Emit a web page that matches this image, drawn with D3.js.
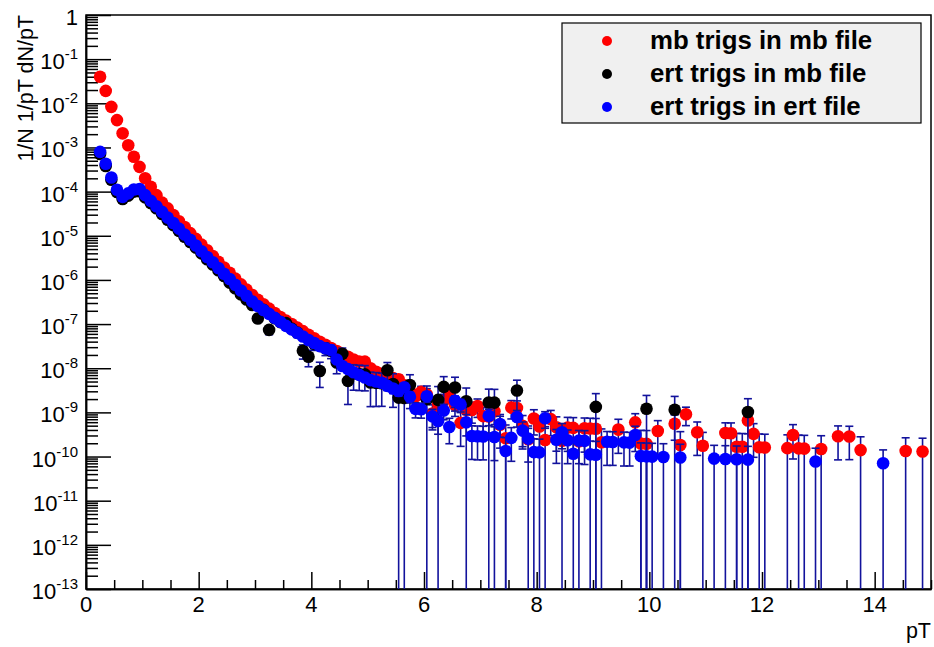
<!DOCTYPE html>
<html>
<head>
<meta charset="utf-8">
<script src="https://cdn.jsdelivr.net/npm/d3@7"></script>
<style>
  body { margin: 0; background: #fff; }
  svg { display: block; }
  text { font-family: "Liberation Sans", Arial, Helvetica, sans-serif; fill: #000; }
</style>
</head>
<body>
<div id="chart"></div>
<script>
// legend entries
const seriesNames = ["mb trigs in mb file", "ert trigs in mb file", "ert trigs in ert file"];
// tick labels
const xTickLabels = [0, 2, 4, 6, 8, 10, 12, 14];
const yDecades = [0, -1, -2, -3, -4, -5, -6, -7, -8, -9, -10, -11, -12, -13];

// [pT, 1/N 1/pT dN/pT, error]
const mbTrigsMbFile = [
  [0.25,3.98e-2,0],[0.35,1.91e-2,0],[0.45,8.32e-3,0],[0.55,4.17e-3,0],[0.65,2.09e-3,0],[0.75,1.12e-3,0],
  [0.85,6.17e-4,0],[0.95,3.63e-4,0],[1.05,2.00e-4,0],[1.15,1.29e-4,0],[1.25,8.32e-5,0],[1.35,5.62e-5,0],
  [1.45,4.17e-5,0],[1.55,2.95e-5,0],[1.65,2.14e-5,0],[1.75,1.58e-5,0],[1.85,1.15e-5,0],[1.95,8.51e-6,0],
  [2.05,6.31e-6,0],[2.15,4.68e-6,0],[2.25,3.47e-6,0],[2.35,2.57e-6,0],[2.45,1.91e-6,0],[2.55,1.45e-6,0],
  [2.65,1.07e-6,0],[2.75,7.94e-7,0],[2.85,6.03e-7,0],[2.95,4.57e-7,0],[3.05,3.55e-7,0],[3.15,2.82e-7,0],
  [3.25,2.24e-7,0],[3.35,1.78e-7,0],[3.45,1.45e-7,0],[3.55,1.20e-7,0],[3.65,1.00e-7,0],[3.75,8.32e-8,0],
  [3.85,6.92e-8,0],[3.95,5.75e-8,0],[4.05,4.79e-8,0],[4.15,3.98e-8,0],[4.25,3.39e-8,0],[4.35,2.88e-8,0],
  [4.45,2.45e-8,0],[4.55,2.09e-8,0],[4.65,1.82e-8,0],[4.75,1.58e-8,0],[4.85,1.41e-8,2.3e-9],[4.95,1.41e-8,2.3e-9],
  [5.05,1.00e-8,2.0e-9],[5.15,8.32e-9,1.8e-9],[5.25,7.41e-9,1.7e-9],[5.35,6.61e-9,1.55e-9],[5.45,6.03e-9,1.45e-9],
  [5.55,5.62e-9,1.4e-9],[5.65,4.10e-9,1.18e-9],[5.75,3.02e-9,1.0e-9],[5.85,2.31e-9,8.7e-10],[5.95,2.92e-9,9.7e-10],
  [6.05,2.55e-9,9.0e-10],[6.15,9.41e-10,5.4e-10],[6.25,1.54e-9,6.9e-10],[6.35,1.82e-9,7.4e-10],[6.45,2.69e-9,9.0e-10],
  [6.55,1.47e-9,6.6e-10],[6.65,5.80e-10,4.1e-10],[6.75,1.14e-9,5.7e-10],[6.85,1.13e-9,5.6e-10],[6.95,1.39e-9,6.2e-10],
  [7.05,8.21e-10,4.7e-10],[7.15,8.10e-10,4.7e-10],[7.25,1.06e-9,5.3e-10],[7.35,5.25e-10,3.7e-10],[7.45,2.59e-10,2.59e-10],
  [7.55,1.28e-9,5.7e-10],[7.65,1.26e-9,5.6e-10],[7.75,4.98e-10,3.5e-10],[7.85,2.46e-10,2.46e-10],[7.95,7.28e-10,4.2e-10],
  [8.05,4.80e-10,3.4e-10],[8.15,2.37e-10,2.37e-10],[8.25,7.02e-10,4.05e-10],[8.35,4.62e-10,3.3e-10],[8.45,2.28e-10,2.28e-10],
  [8.55,4.51e-10,3.2e-10],[8.65,4.46e-10,3.15e-10],[8.75,2.21e-10,2.21e-10],[8.85,4.36e-10,3.1e-10],[8.95,4.31e-10,3.05e-10],
  [9.05,4.27e-10,3.0e-10],[9.15,2.11e-10,2.11e-10],[9.45,4.08e-10,2.9e-10],[9.75,5.94e-10,3.4e-10],[9.85,1.96e-10,1.96e-10],
  [9.95,1.94e-10,1.94e-10],[10.15,3.80e-10,2.7e-10],[10.45,5.54e-10,3.2e-10],[10.55,1.83e-10,1.83e-10],[10.65,9.06e-10,4.05e-10],
  [10.85,3.56e-10,2.5e-10],[10.95,1.76e-10,1.76e-10],[11.35,3.40e-10,2.4e-10],[11.45,3.37e-10,2.4e-10],[11.55,1.67e-10,1.67e-10],
  [11.65,1.66e-10,1.66e-10],[11.75,6.57e-10,3.3e-10],[11.85,3.26e-10,2.3e-10],[11.95,1.62e-10,1.62e-10],[12.05,1.60e-10,1.60e-10],
  [12.45,1.55e-10,1.55e-10],[12.55,3.08e-10,2.2e-10],[12.65,1.53e-10,1.53e-10],[12.75,1.51e-10,1.51e-10],[13.05,1.48e-10,1.48e-10],
  [13.35,2.89e-10,2.05e-10],[13.55,2.85e-10,2.0e-10],[13.75,1.40e-10,1.40e-10],[14.55,1.33e-10,1.33e-10],[14.85,1.30e-10,1.30e-10]
];

const ertTrigsMbFile = [
  [0.25,7.1e-4,0],[0.35,3.8e-4,0],[0.45,1.86e-4,0],[0.55,9.8e-5,0],[0.65,6.8e-5,0],[0.75,8.1e-5,0],
  [0.85,1.0e-4,0],[0.95,1.02e-4,0],[1.05,7.4e-5,0],[1.15,5.5e-5,0],[1.25,4.2e-5,0],[1.35,3.1e-5,0],
  [1.45,2.3e-5,0],[1.55,1.74e-5,0],[1.65,1.29e-5,0],[1.75,9.5e-6,0],[1.85,7.2e-6,0],[1.95,5.4e-6,0],
  [2.05,4.0e-6,0],[2.15,2.95e-6,0],[2.25,2.23e-6,0],[2.35,1.66e-6,0],[2.45,1.23e-6,0],[2.55,8.7e-7,0],
  [2.65,6.5e-7,0],[2.75,4.7e-7,0],[2.85,3.6e-7,0],[2.95,2.7e-7,0],
  [3.05,1.34e-7,2.3e-8],[3.15,2.1e-7,2.8e-8],[3.25,7.38e-8,1.65e-8],[3.35,1.36e-7,2.2e-8],[3.45,1.11e-7,1.97e-8],
  [3.55,1.05e-7,1.9e-8],[3.65,7.9e-8,1.6e-8],[3.75,6.4e-8,1.43e-8],[3.85,2.49e-8,8.8e-9],[3.95,1.82e-8,7.4e-9],
  [4.05,3.56e-8,1.03e-8],[4.15,8.67e-9,5.0e-9],[4.25,2.82e-8,8.9e-9],[4.35,2.48e-8,8.3e-9],[4.45,1.35e-8,6.0e-9],
  [4.55,2.11e-8,7.5e-9],[4.65,5.16e-9,3.65e-9],[4.75,7.58e-9,4.4e-9],[4.85,7.42e-9,4.3e-9],[4.95,7.27e-9,4.2e-9],
  [5.05,4.75e-9,3.4e-9],[5.15,4.66e-9,3.3e-9],[5.25,4.57e-9,3.2e-9],[5.35,8.97e-9,4.5e-9],[5.45,4.40e-9,3.1e-9],
  [5.55,2.16e-9,2.16e-9],[5.65,2.12e-9,2.12e-9],[5.75,4.17e-9,2.95e-9],[6.05,1.98e-9,1.98e-9],[6.25,1.92e-9,1.92e-9],
  [6.35,3.78e-9,2.67e-9],[6.55,3.66e-9,2.59e-9],[6.75,1.78e-9,1.78e-9],[7.15,1.68e-9,1.68e-9],[7.25,1.66e-9,1.66e-9],
  [7.65,3.14e-9,2.22e-9],[9.05,1.33e-9,1.33e-9],[9.95,1.21e-9,1.21e-9],[10.45,1.15e-9,1.15e-9],[11.75,1.02e-9,1.02e-9]
];

const ertTrigsErtFile = [
  [0.25,7.94e-4,0],[0.35,4.27e-4,0],[0.45,2.09e-4,0],[0.55,1.10e-4,0],[0.65,7.59e-5,0],[0.75,9.12e-5,0],
  [0.85,1.12e-4,0],[0.95,1.15e-4,0],[1.05,8.32e-5,0],[1.15,6.17e-5,0],[1.25,4.68e-5,0],[1.35,3.47e-5,0],
  [1.45,2.57e-5,0],[1.55,1.95e-5,0],[1.65,1.45e-5,0],[1.75,1.07e-5,0],[1.85,8.13e-6,0],[1.95,6.03e-6,0],
  [2.05,4.47e-6,0],[2.15,3.31e-6,0],[2.25,2.51e-6,0],[2.35,1.86e-6,0],[2.45,1.38e-6,0],[2.55,1.05e-6,0],
  [2.65,7.76e-7,0],[2.75,5.75e-7,0],[2.85,4.37e-7,0],[2.95,3.24e-7,0],[3.05,2.57e-7,0],[3.15,2.09e-7,0],
  [3.25,1.70e-7,0],[3.35,1.38e-7,0],[3.45,1.12e-7,0],[3.55,9.12e-8,0],[3.65,7.59e-8,0],[3.75,6.31e-8,0],
  [3.85,5.25e-8,0],[3.95,4.37e-8,0],[4.05,3.72e-8,0],[4.15,3.16e-8,0],[4.25,2.82e-8,0],[4.35,2.57e-8,0],
  [4.45,1.58e-8,1.9e-9],[4.55,1.12e-8,1.6e-9],[4.65,9.55e-9,1.4e-9],[4.75,8.13e-9,1.3e-9],[4.85,7.08e-9,1.2e-9],
  [4.95,6.17e-9,1.1e-9],[5.05,5.37e-9,1.0e-9],[5.15,5.01e-9,9.9e-10],[5.25,4.68e-9,9.4e-10],[5.35,3.98e-9,8.7e-10],
  [5.45,3.47e-9,8.0e-10],[5.55,3.06e-9,7.4e-10],[5.65,3.72e-9,8.1e-10],[5.75,2.26e-9,6.3e-10],[5.85,1.20e-9,4.5e-10],
  [5.95,1.18e-9,4.4e-10],[6.05,2.31e-9,6.2e-10],[6.15,8.13e-10,3.6e-10],[6.25,6.40e-10,3.2e-10],[6.35,1.10e-9,4.2e-10],
  [6.45,4.65e-10,2.7e-10],[6.55,1.83e-9,5.3e-10],[6.65,1.50e-9,4.8e-10],[6.75,5.93e-10,3.0e-10],[6.85,2.92e-10,2.06e-10],
  [6.95,2.88e-10,2.04e-10],[7.05,2.84e-10,2.0e-10],[7.15,8.39e-10,3.4e-10],[7.25,2.76e-10,1.95e-10],[7.35,5.44e-10,2.7e-10],
  [7.45,1.34e-10,1.34e-10],[7.55,2.65e-10,1.87e-10],[7.65,7.84e-10,3.2e-10],[7.75,3.87e-10,2.2e-10],[7.85,2.55e-10,1.8e-10],
  [7.95,1.26e-10,1.26e-10],[8.05,1.24e-10,1.24e-10],[8.15,7.36e-10,3.0e-10],[8.35,2.40e-10,1.7e-10],[8.45,3.55e-10,2.05e-10],
  [8.55,2.34e-10,1.65e-10],[8.65,1.16e-10,1.16e-10],[8.75,2.29e-10,1.6e-10],[8.85,2.26e-10,1.6e-10],[8.95,1.12e-10,1.12e-10],
  [9.05,1.10e-10,1.10e-10],[9.25,2.16e-10,1.53e-10],[9.35,2.14e-10,1.51e-10],[9.55,2.09e-10,1.48e-10],[9.65,2.07e-10,1.46e-10],
  [9.75,3.08e-10,1.78e-10],[9.85,1.02e-10,1.02e-10],[9.95,1.01e-10,1.01e-10],[10.05,9.95e-11,9.95e-11],[10.25,9.76e-11,9.76e-11],
  [10.55,9.48e-11,9.48e-11],[11.15,8.97e-11,8.97e-11],[11.35,8.81e-11,8.81e-11],[11.55,8.66e-11,8.66e-11],[11.75,8.51e-11,8.51e-11],
  [12.95,7.72e-11,7.72e-11],[14.15,7.07e-11,7.07e-11]
];

(function () {
    let width = 934, height = 647;
    let left = 86, right = 931, top = 15, bottom = 589;
    let svg = d3.select("#chart")
        .append("svg")
        .attr("width", width)
        .attr("height", height);

    let x = d3.scaleLinear().domain([0, 15]).range([left, right]);
    let y = d3.scaleLog().domain([1e-13, 1]).range([bottom, top]);

    // frame
    svg.append("rect")
        .attr("x", left).attr("y", top)
        .attr("width", right - left).attr("height", bottom - top)
        .attr("fill", "none").attr("stroke", "#000").attr("stroke-width", 1.5);

    // y ticks (inside, to the right of the axis)
    let yMajor = yDecades.map(e => Math.pow(10, e));
    let yMinor = [];
    yDecades.slice(1).forEach(e => {
        for (let k = 2; k < 10; k++) yMinor.push(k * Math.pow(10, e));
    });
    let yAx = svg.append("g").attr("transform", `translate(${left},0)`);
    yAx.append("g").call(d3.axisRight(y).tickValues(yMajor).tickSize(25).tickSizeOuter(0).tickFormat(""));
    yAx.append("g").call(d3.axisRight(y).tickValues(yMinor).tickSize(12).tickSizeOuter(0).tickFormat(""));
    yAx.selectAll("path,line").attr("stroke", "#000").attr("stroke-width", 1.5);

    // x ticks (inside, pointing up)
    let xMinor = d3.range(0, 15.001, 0.5).filter(v => v % 2 !== 0);
    let xAx = svg.append("g").attr("transform", `translate(0,${bottom})`);
    xAx.append("g").call(d3.axisTop(x).tickValues(xTickLabels).tickSize(17).tickSizeOuter(0).tickFormat(""));
    xAx.append("g").call(d3.axisTop(x).tickValues(xMinor).tickSize(9).tickSizeOuter(0).tickFormat(""));
    xAx.selectAll("path,line").attr("stroke", "#000").attr("stroke-width", 1.5);

    // y tick labels
    yDecades.forEach(e => {
        let t = svg.append("text")
            .attr("x", 78)
            .attr("y", y(Math.pow(10, e)) + 10)
            .attr("text-anchor", "end")
            .attr("font-size", 22);
        if (e === 0) {
            t.text("1");
        } else {
            t.append("tspan").text("10");
            t.append("tspan").attr("dy", -10).attr("font-size", 15).text("-" + Math.abs(e));
        }
    });

    // x tick labels
    svg.selectAll(".xlab")
        .data(xTickLabels)
        .enter()
        .append("text")
        .attr("x", d => x(d))
        .attr("y", 612)
        .attr("text-anchor", "middle")
        .attr("font-size", 22)
        .text(d => d);

    // axis titles
    svg.append("text")
        .attr("transform", `translate(33,${top}) rotate(-90)`)
        .attr("text-anchor", "end")
        .attr("font-size", 21.5)
        .text("1/N 1/pT dN/pT");
    svg.append("text")
        .attr("x", right)
        .attr("y", 638)
        .attr("text-anchor", "end")
        .attr("font-size", 21.5)
        .text("pT");

    // data
    svg.append("clipPath").attr("id", "plotclip")
        .append("rect").attr("x", left).attr("y", top)
        .attr("width", right - left).attr("height", bottom - top);
    let plot = svg.append("g").attr("clip-path", "url(#plotclip)");
    let errColor = "#12129c";

    function drawSeries(data, color) {
        let g = plot.append("g");
        let withErr = data.filter(d => d[2] > 0);
        g.selectAll(".err")
            .data(withErr)
            .enter()
            .append("line")
            .attr("x1", d => x(d[0])).attr("x2", d => x(d[0]))
            .attr("y1", d => y(d[1] + d[2]))
            .attr("y2", d => d[1] - d[2] > 0 ? y(d[1] - d[2]) : bottom)
            .attr("stroke", errColor).attr("stroke-width", 1.6);
        g.selectAll(".capTop")
            .data(withErr)
            .enter()
            .append("line")
            .attr("x1", d => x(d[0]) - 4).attr("x2", d => x(d[0]) + 4)
            .attr("y1", d => y(d[1] + d[2])).attr("y2", d => y(d[1] + d[2]))
            .attr("stroke", errColor).attr("stroke-width", 1.6);
        g.selectAll(".capBot")
            .data(withErr.filter(d => d[1] - d[2] > 0))
            .enter()
            .append("line")
            .attr("x1", d => x(d[0]) - 4).attr("x2", d => x(d[0]) + 4)
            .attr("y1", d => y(d[1] - d[2])).attr("y2", d => y(d[1] - d[2]))
            .attr("stroke", errColor).attr("stroke-width", 1.6);
        g.selectAll("circle")
            .data(data)
            .enter()
            .append("circle")
            .attr("cx", d => x(d[0]))
            .attr("cy", d => y(d[1]))
            .attr("r", 6.3)
            .attr("fill", color);
    }
    drawSeries(mbTrigsMbFile, "#ff0000");
    drawSeries(ertTrigsMbFile, "#000000");
    drawSeries(ertTrigsErtFile, "#0000ff");

    // legend
    let lg = svg.append("g");
    lg.append("rect")
        .attr("x", 562).attr("y", 23)
        .attr("width", 359).attr("height", 100)
        .attr("fill", "#f0f0f0").attr("stroke", "#000").attr("stroke-width", 1.2);
    let legendColors = ["#ff0000", "#000000", "#0000ff"];
    let rowY = [41, 74, 107];
    seriesNames.forEach((name, i) => {
        lg.append("circle")
            .attr("cx", 607).attr("cy", rowY[i]).attr("r", 5)
            .attr("fill", legendColors[i]);
        lg.append("text")
            .attr("x", 650).attr("y", rowY[i] + 8)
            .attr("font-size", 25.8)
            .attr("font-weight", "bold")
            .text(name);
    });
})();
</script>
</body>
</html>
